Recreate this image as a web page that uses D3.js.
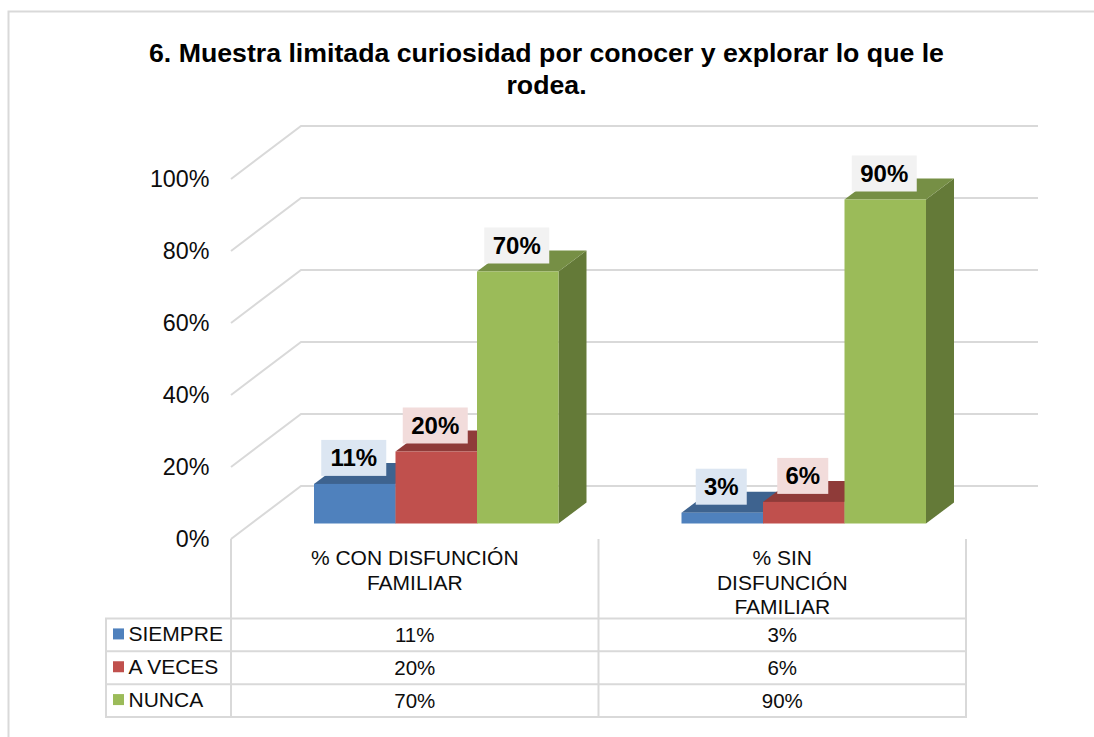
<!DOCTYPE html>
<html><head><meta charset="utf-8">
<script src="https://cdn.jsdelivr.net/npm/d3@7"></script>
<style>html,body{margin:0;padding:0;background:#fff}svg{display:block}text{font-family:"Liberation Sans",Arial,sans-serif;fill:#0d0d0d}</style>
</head><body><div id="c"></div>
<script>
const titleLines = ["6. Muestra limitada curiosidad por conocer y explorar lo que le", "rodea."];
const categories = ["% CON DISFUNCIÓN FAMILIAR", "% SIN DISFUNCIÓN FAMILIAR"];
const categoryLines = [["% CON DISFUNCIÓN", "FAMILIAR"], ["% SIN", "DISFUNCIÓN", "FAMILIAR"]];
const seriesNames = ["SIEMPRE", "A VECES", "NUNCA"];
const siempre = [0.11, 0.03];
const aVeces = [0.20, 0.06];
const nunca = [0.70, 0.90];
const tickValues = [0, 0.2, 0.4, 0.6, 0.8, 1];
const frontColors = ["#4f81bd", "#c0504d", "#9bbb59"];
const topColors = ["#3e638f", "#8f3b39", "#768f45"];
const sideColors = ["#324f73", "#733130", "#647a38"];
const boxColors = ["#dce6f2", "#f2dcdb", "#f2f2f2"];
const seriesValues = [siempre, aVeces, nunca];

const W = 1094, H = 737, grid = "#d9d9d9";
const svg = d3.select("#c").append("svg").attr("width", W).attr("height", H);
const pct = d3.format(".0%");

// frame
svg.append("path").attr("d", `M8.5,${H}V11.5H${W}`).attr("fill", "none").attr("stroke", grid).attr("stroke-width", 2);

// title
svg.append("g").selectAll("text").data(titleLines).join("text")
  .attr("x", 546.5).attr("y", (d, i) => 62 + i * 32).attr("text-anchor", "middle")
  .attr("font-size", 26.7).attr("font-weight", "bold").attr("style", "fill:#000").text(d => d);

// scales
const yFront = d3.scaleLinear().domain([0, 1]).range([539, 179]);
const depthX = 70, depthY = -53;
const barDX = 28, barDY = -21;
const barBase = 523.5;
const barH = d3.scaleLinear().domain([0, 1]).range([0, 360]);
const xCat = d3.scaleBand().domain(categories).range([231, 966]);
const xSeries = d3.scaleBand().domain(seriesNames).range([83, 327.5]);

// walls
const gridG = svg.append("g").attr("fill", "none").attr("stroke", grid).attr("stroke-width", 2);
gridG.selectAll("path").data(tickValues).join("path")
  .attr("d", d => `M231,${yFront(d)}L${231 + depthX},${yFront(d) + depthY}H1038`);

// y labels
const yAxis = d3.axisLeft(yFront).tickValues(tickValues).tickFormat(pct).tickSize(0).tickPadding(0);
const yg = svg.append("g").attr("transform", "translate(209.5,0.5)").call(yAxis);
yg.select(".domain").remove();
yg.selectAll("text").attr("font-size", 23.3).attr("font-family", '"Liberation Sans"').attr("fill", "#0d0d0d");

// bars
const bw = xSeries.bandwidth();
categories.forEach((c, ci) => {
  seriesNames.forEach((s, si) => {
    const v = seriesValues[si][ci];
    const x = xCat(c) + xSeries(s), y = barBase - barH(v), h = barH(v);
    const g = svg.append("g");
    g.append("path").attr("fill", sideColors[si])
      .attr("d", `M${x + bw},${y}l${barDX},${barDY}v${h}l${-barDX},${-barDY}Z`);
    g.append("path").attr("fill", topColors[si])
      .attr("d", `M${x},${y}l${barDX},${barDY}h${bw}l${-barDX},${-barDY}Z`);
    g.append("rect").attr("x", x).attr("y", y).attr("width", bw).attr("height", h).attr("fill", frontColors[si]);
  });
});

// data labels
categories.forEach((c, ci) => {
  seriesNames.forEach((s, si) => {
    const v = seriesValues[si][ci];
    const label = pct(v);
    const cx = xCat(c) + xSeries(s) + bw / 2 - 1;
    const cy = barBase - barH(v) - 26;
    const bwid = label.length === 2 ? 51 : 65;
    svg.append("rect").attr("x", cx - bwid / 2).attr("y", cy - 18).attr("width", bwid).attr("height", 36).attr("fill", boxColors[si]);
    svg.append("text").attr("x", cx).attr("y", cy + 8.5).attr("text-anchor", "middle")
      .attr("font-size", 24).attr("font-weight", "bold").attr("style", "fill:#000").text(label);
  });
});

// data table
const rowY = d3.scalePoint().domain(d3.range(4)).range([618.5, 717]);
const tbl = svg.append("g").attr("fill", "none").attr("stroke", grid).attr("stroke-width", 2);
tbl.selectAll("line.h").data(d3.range(4)).join("line").attr("class", "h")
  .attr("x1", 105).attr("x2", 967).attr("y1", d => rowY(d)).attr("y2", d => rowY(d));
tbl.append("path").attr("d", `M106,618V717`);
[231, 598.5, 966].forEach(x => tbl.append("path").attr("d", `M${x},539V717`));

// category labels
categoryLines.forEach((lines, ci) => {
  const cx = xCat(categories[ci]) + xCat.bandwidth() / 2;
  lines.forEach((t, i) => svg.append("text").attr("x", cx).attr("y", 565 + i * 24.5)
    .attr("text-anchor", "middle").attr("font-size", 21).text(t));
});

// legend + table values
seriesNames.forEach((s, si) => {
  const cy = (rowY(si) + rowY(si + 1)) / 2;
  svg.append("rect").attr("x", 113).attr("y", cy - 6.5).attr("width", 11).attr("height", 11).attr("fill", frontColors[si]);
  svg.append("text").attr("x", 128.5).attr("y", cy + 6.5).attr("font-size", 21).text(s);
  categories.forEach((c, ci) => {
    svg.append("text").attr("x", xCat(c) + xCat.bandwidth() / 2).attr("y", cy + 7)
      .attr("text-anchor", "middle").attr("font-size", 20.5).text(pct(seriesValues[si][ci]));
  });
});
</script></body></html>
